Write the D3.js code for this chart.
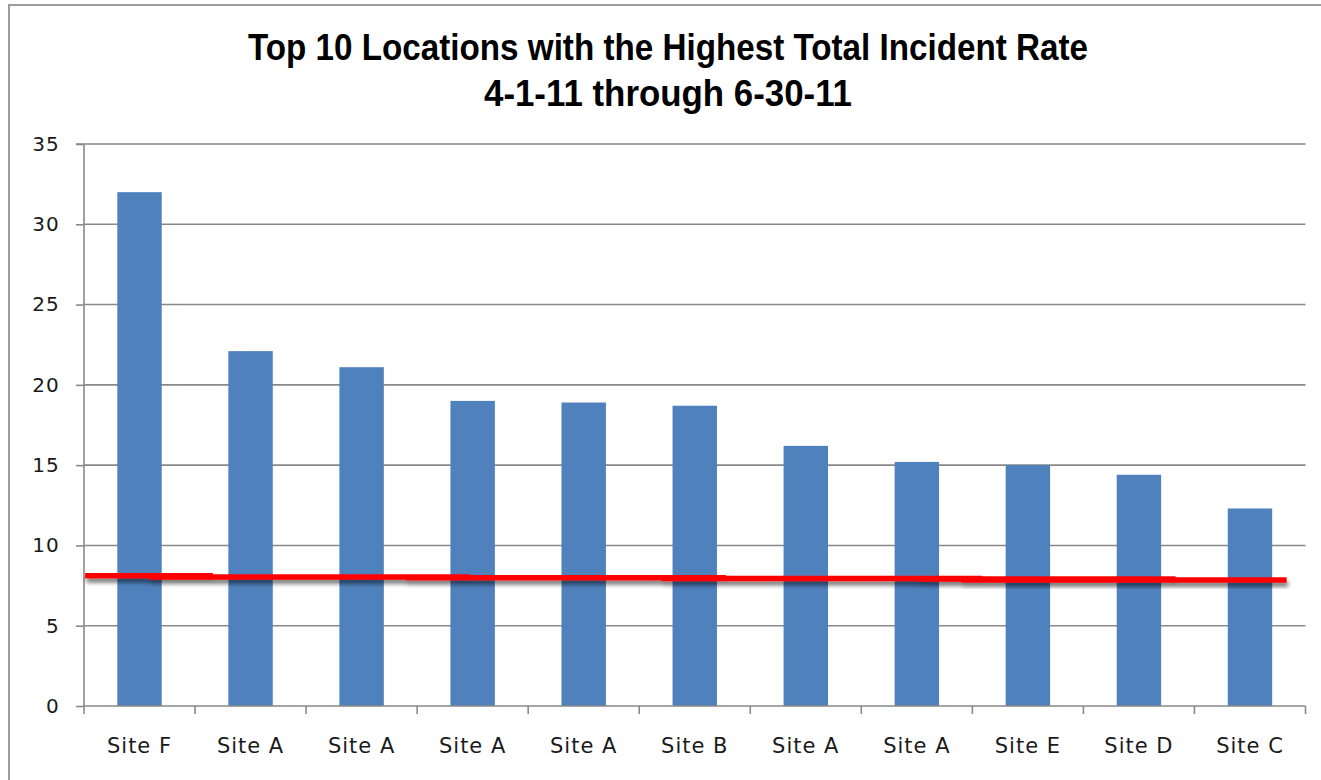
<!DOCTYPE html>
<html>
<head>
<meta charset="utf-8">
<script src="https://cdn.jsdelivr.net/npm/d3@7"></script>
<style>
  html, body { margin: 0; padding: 0; background: #fff; }
  svg { display: block; }
</style>
</head>
<body>
<svg id="chart" width="1321" height="780"></svg>
<script>
// ---- data ----
const categories = ["Site F","Site A","Site A","Site A","Site A","Site B","Site A","Site A","Site E","Site D","Site C"];
const values = [32.0, 22.1, 21.1, 19.0, 18.9, 18.7, 16.2, 15.2, 15.0, 14.4, 12.3];
const yTickValues = [0, 5, 10, 15, 20, 25, 30, 35];
const titleLines = ["Top 10 Locations with the Highest Total Incident Rate", "4-1-11 through 6-30-11"];
// red reference line, drawn as overlapping segments (category-index units, value)
const lineSegStart = [0.01, 0.59, 2.90, 5.20, 7.51, 7.90];
const lineSegEnd   = [1.16, 3.47, 5.78, 8.09, 9.83, 10.83];
const lineSegValue = [8.11, 8.04, 7.98, 7.94, 7.91, 7.85];

(function () {
// ---- layout ----
const svg = d3.select("#chart");
const plotL = 84, plotR = 1305.5, plotT = 144, plotB = 706;
const gridColor = "#898989";

const x = d3.scaleBand().domain(d3.range(categories.length)).range([plotL, plotR])
  .paddingInner(0.6).paddingOuter(0.3);
const xLin = d3.scaleLinear().domain([0, categories.length]).range([plotL, plotR]);
const y = d3.scaleLinear().domain([0, 35]).range([plotB, plotT]);

// frame
svg.append("path").attr("d", "M9,780 V5 H1321").attr("fill", "none")
  .attr("stroke", "#9c9c9c").attr("stroke-width", 2);

// title
const titleG = svg.append("g");
const titleSpecs = [{x0: 248, x1: 1088, base: 60}, {x0: 484, x1: 852, base: 106}];
titleLines.forEach((t, i) => {
  const s = titleSpecs[i];
  titleG.append("text")
    .attr("x", s.x0).attr("y", s.base)
    .attr("textLength", s.x1 - s.x0)
    .attr("lengthAdjust", "spacingAndGlyphs")
    .attr("font-family", "'Liberation Sans Narrow', 'Liberation Sans', Arial, sans-serif")
    .attr("font-weight", "bold").attr("font-size", 37).attr("fill", "#000")
    .text(t);
});

// gridlines
svg.append("g").selectAll("line").data(yTickValues.filter(d => d > 0)).join("line")
  .attr("x1", plotL).attr("x2", plotR)
  .attr("y1", d => y(d)).attr("y2", d => y(d))
  .attr("stroke", gridColor).attr("stroke-width", 1.6);

// y axis
const yAxis = d3.axisLeft(y).tickValues(yTickValues).tickSize(8).tickPadding(16).tickFormat(d3.format("d"));
const yG = svg.append("g").attr("transform", `translate(${plotL},0)`).call(yAxis);
yG.select(".domain").attr("stroke", gridColor).attr("stroke-width", 1.6).attr("d", `M-8,${plotT}H0V${plotB}`);
yG.selectAll(".tick line").attr("stroke", gridColor).attr("stroke-width", 1.6);
yG.selectAll(".tick text").attr("font-family", "'DejaVu Sans', sans-serif").attr("font-size", 20)
  .attr("letter-spacing", 1.2).attr("fill", "#1a1a1a");

// bars
svg.append("g").selectAll("rect").data(values).join("rect")
  .attr("x", (d, i) => x(i)).attr("width", x.bandwidth())
  .attr("y", d => y(d)).attr("height", d => y(0) - y(d))
  .attr("fill", "#4F81BD");

// x axis
svg.append("line").attr("x1", plotL).attr("x2", plotR).attr("y1", plotB).attr("y2", plotB)
  .attr("stroke", gridColor).attr("stroke-width", 1.6);
svg.append("g").selectAll("line").data(d3.range(categories.length + 1)).join("line")
  .attr("x1", d => xLin(d)).attr("x2", d => xLin(d))
  .attr("y1", plotB).attr("y2", plotB + 8)
  .attr("stroke", gridColor).attr("stroke-width", 1.6);
svg.append("g").selectAll("text").data(categories).join("text")
  .attr("x", (d, i) => x(i) + x.bandwidth() / 2).attr("y", plotB + 46.5)
  .attr("text-anchor", "middle")
  .attr("font-family", "'DejaVu Sans', sans-serif").attr("font-size", 21)
  .attr("letter-spacing", 1)
  .attr("fill", "#1a1a1a")
  .text(d => d);

// red line with shadow
const defs = svg.append("defs");
const f = defs.append("filter").attr("id", "shadow").attr("x", "-5%").attr("y", "-200%")
  .attr("width", "110%").attr("height", "500%");
f.append("feDropShadow").attr("dx", 1.5).attr("dy", 4).attr("stdDeviation", 2)
  .attr("flood-color", "#000").attr("flood-opacity", 0.55);
svg.append("g").attr("filter", "url(#shadow)").selectAll("line").data(lineSegValue).join("line")
  .attr("x1", (d, i) => xLin(lineSegStart[i])).attr("x2", (d, i) => xLin(lineSegEnd[i]))
  .attr("y1", d => y(d)).attr("y2", d => y(d))
  .attr("stroke", "#FF0000").attr("stroke-width", 5.5);
})();
</script>
</body>
</html>
